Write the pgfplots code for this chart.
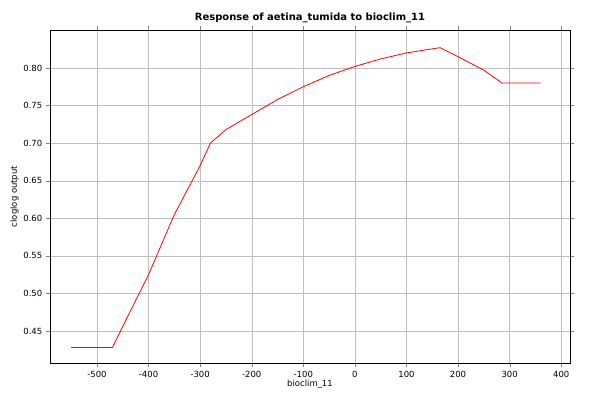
\documentclass[border=0pt]{standalone}
\usepackage{pgfplots}
\pgfplotsset{compat=1.18}
\usepackage{fontspec}
\setmainfont{DejaVu Sans}
\begin{document}
\begin{tikzpicture}
\path[use as bounding box] (-50bp,-37bp) rectangle (550bp,363bp);
\begin{axis}[
  width=520bp, height=333bp, scale only axis,
  at={(0,0)},
  /pgf/number format/assume math mode=true,
  xmin=-591, xmax=417, ymin=0.4075, ymax=0.8505,
  xtick={-500,-400,...,400},
  ytick={0.45,0.5,...,0.81},
  yticklabel style={/pgf/number format/fixed,/pgf/number format/fixed zerofill,/pgf/number format/precision=2},
  grid=major, grid style={gray!50},
  tick label style={font=\fontsize{8.5}{10}\selectfont},
  label style={font=\fontsize{8.5}{10}\selectfont},
  title style={font=\bfseries\fontsize{10}{12}\selectfont, yshift=-2pt},
  title={Response of aetina\_tumida to bioclim\_11},
  xlabel={bioclim\_11}, ylabel={cloglog output},
  xlabel style={yshift=4pt}, ylabel style={yshift=-2pt},
  tick align=outside, tick pos=both,
]
\addplot[red, thick] coordinates {
(-550,0.428) (-470,0.428) (-440,0.47) (-400,0.525) (-350,0.605) (-300,0.67)
(-280,0.70) (-250,0.718) (-200,0.738) (-150,0.758) (-100,0.775) (-50,0.790)
(0,0.802) (50,0.812) (100,0.820) (165,0.827) (200,0.815) (250,0.797)
(285,0.78) (360,0.78)};
\end{axis}
\end{tikzpicture}
\end{document}
